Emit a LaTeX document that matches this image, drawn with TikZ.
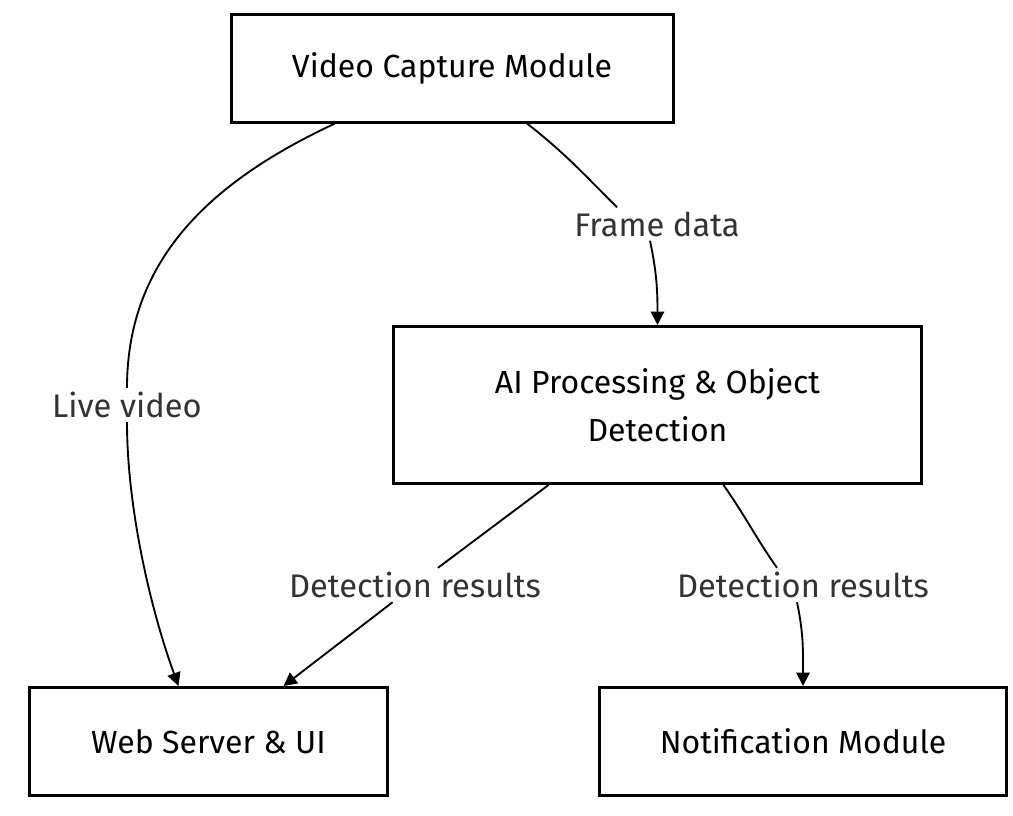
\documentclass[tikz,border=0pt]{standalone}
\usepackage{fontspec}
\setmainfont{Fira Sans}
\usepackage{tikz}
\usetikzlibrary{arrows.meta,calc}
\definecolor{lbltext}{HTML}{333333}

\begin{document}
\begin{tikzpicture}[x=0.75pt,y=-0.75pt, >={Triangle[length=10pt,width=10pt]},
    box/.style={draw=black, line width=2.25pt, fill=white, align=center,
        font=\fontsize{24}{36}\selectfont},
    lbl/.style={fill=white, text=lbltext, inner sep=3pt,
        font=\fontsize{24.5}{28}\selectfont},
    edge/.style={line width=1.4pt}]
    \useasboundingbox (0,0) rectangle (1013,815);

    \node[box, minimum width=331.5pt, minimum height=81pt](0) at (452,68) {Video Capture Module};
    \node[box, minimum width=396pt, minimum height=117.75pt](1) at (657.5,405) {AI Processing \& Object\\Detection};
    \node[box, minimum width=268.5pt, minimum height=81pt](2) at (208.5,741.5) {Web Server \& UI};
    \node[box, minimum width=305.25pt, minimum height=81pt](3) at (803,741.5) {Notification Module};

    \node[lbl](l0) at (657,224) {Frame data};
    \node[lbl](l1) at (127,405) {Live video};
    \node[lbl](l2) at (415,585) {Detection results};
    \node[lbl](l3) at (803,585) {Detection results};

    \draw[edge]($(0.south)+(75,0)$) to[out=-38,in=135] ($(l0.north)+(-40,0)$);
    \draw[edge,->]($(l0.south)+(-7,0)$) to[out=-78,in=90] (1.north);
    \draw[edge]($(0.south)+(-117,0)$) to[out=-155,in=90] (l1);
    \draw[edge,->](l1) to[out=-90,in=110,looseness=0.8] ($(2.north)+(-30,0)$);
    \draw[edge]($(1.south)+(-109,0)$) -- (l2);
    \draw[edge,->](l2) -- ($(2.north)+(75,0)$);
    \draw[edge]($(1.south)+(66,0)$) to[out=-55,in=125] ($(l3.north)+(-26,0)$);
    \draw[edge,->]($(l3.south)+(-6,0)$) to[out=-78,in=90] (3.north);
\end{tikzpicture}
\end{document}
